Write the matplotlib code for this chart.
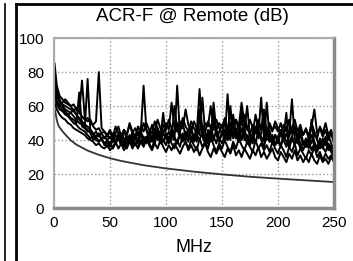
import numpy as np
import matplotlib
matplotlib.use("Agg")
import matplotlib.pyplot as plt
from matplotlib.lines import Line2D

plt.rcParams['font.family'] = ['Liberation Sans', 'DejaVu Sans']

# sweep frequencies (MHz): 0.5 then every 2.5 MHz up to 250
freq = np.concatenate([[0.5], np.arange(2.5, 250.1, 2.5)])

trace_a = [85, 72, 66, 64, 62, 61, 60, 57, 55, 52,
           50, 48, 46, 44, 40, 42, 39, 41, 38, 40,
           37, 41, 38, 44, 40, 36, 42, 39, 45, 41,
           38, 44, 72, 46, 40, 43, 38, 45, 41, 39,
           44, 40, 47, 42, 38, 45, 50, 42, 39, 46,
           41, 48, 43, 65, 44, 40, 47, 42, 38, 45,
           49, 41, 46, 40, 55, 43, 39, 47, 42, 38,
           44, 40, 48, 43, 65, 41, 45, 39, 43, 37,
           42, 46, 40, 44, 38, 42, 47, 39, 43, 37,
           41, 36, 43, 39, 35, 40, 37, 42, 36, 33,
           30]
trace_b = [78, 68, 63, 61, 60, 59, 58, 57, 59, 56,
           54, 52, 53, 50, 49, 51, 80, 47, 45, 43,
           41, 44, 39, 42, 38, 46, 40, 43, 37, 41,
           44, 38, 42, 40, 45, 39, 43, 47, 41, 56,
           42, 38, 44, 40, 72, 43, 39, 45, 41, 48,
           40, 44, 70, 42, 38, 46, 41, 50, 43, 39,
           45, 40, 67, 44, 49, 41, 46, 40, 45, 60,
           42, 38, 47, 41, 44, 56, 40, 46, 39, 43,
           38, 44, 40, 36, 43, 64, 41, 38, 45, 39,
           36, 42, 38, 44, 40, 35, 41, 37, 43, 38,
           34]
trace_c = [70, 63, 60, 58, 56, 55, 53, 52, 50, 68,
           48, 47, 76, 45, 43, 42, 44, 40, 38, 36,
           39, 35, 38, 42, 37, 40, 35, 39, 43, 38,
           36, 40, 37, 42, 38, 35, 41, 44, 38, 40,
           37, 42, 38, 35, 40, 36, 43, 39, 35, 40,
           37, 34, 41, 36, 39, 35, 42, 37, 33, 38,
           35, 40, 36, 33, 39, 35, 41, 37, 34, 39,
           36, 33, 40, 35, 38, 34, 37, 33, 39, 35,
           32, 37, 34, 30, 36, 33, 38, 31, 35, 32,
           29, 34, 31, 36, 30, 33, 28, 32, 29, 31,
           28]
trace_d = [62, 58, 55, 53, 52, 50, 49, 47, 46, 45,
           44, 43, 41, 40, 39, 37, 38, 36, 35, 37,
           34, 36, 39, 35, 38, 34, 37, 40, 35, 38,
           35, 39, 36, 41, 37, 34, 38, 35, 40, 36,
           33, 37, 34, 38, 35, 32, 36, 39, 34, 37,
           33, 36, 31, 35, 38, 33, 30, 35, 32, 36,
           33, 30, 35, 32, 37, 31, 34, 30, 35, 32,
           29, 34, 31, 36, 30, 33, 29, 32, 35, 30,
           28, 33, 30, 27, 32, 29, 34, 28, 31, 27,
           30, 27, 32, 28, 26, 31, 27, 29, 26, 30,
           27]
trace_e = [66, 62, 60, 62, 64, 62, 60, 61, 58, 56,
           75, 53, 51, 52, 48, 46, 47, 44, 45, 42,
           45, 41, 44, 48, 42, 46, 43, 49, 44, 47,
           43, 48, 45, 50, 46, 44, 51, 47, 43, 49,
           46, 52, 47, 44, 50, 46, 53, 48, 45, 51,
           47, 44, 52, 48, 45, 51, 47, 54, 46, 50,
           47, 53, 45, 50, 46, 52, 48, 62, 50, 46,
           52, 47, 44, 51, 46, 50, 44, 49, 45, 51,
           47, 43, 49, 45, 52, 44, 48, 42, 47, 43,
           46, 41, 48, 58, 44, 47, 42, 46, 40, 44,
           38]
trace_f = [74, 66, 62, 60, 58, 57, 56, 58, 55, 53,
           51, 49, 48, 46, 44, 42, 43, 41, 42, 40,
           42, 39, 43, 40, 44, 41, 38, 42, 39, 43,
           40, 45, 41, 38, 44, 40, 46, 42, 39, 44,
           41, 45, 40, 60, 47, 41, 44, 40, 46, 42,
           39, 43, 40, 45, 41, 38, 44, 40, 46, 41,
           38, 43, 40, 46, 41, 44, 39, 42, 47, 40,
           37, 42, 39, 45, 40, 36, 43, 39, 41, 37,
           40, 36, 42, 56, 35, 41, 37, 43, 38, 34,
           39, 35, 52, 37, 33, 38, 35, 40, 34, 37,
           33]
trace_g = [80, 70, 64, 60, 57, 55, 56, 54, 52, 50,
           49, 47, 45, 46, 43, 45, 42, 44, 41, 43,
           46, 42, 48, 44, 40, 46, 43, 50, 45, 42,
           48, 44, 50, 46, 43, 49, 45, 52, 47, 44,
           50, 46, 62, 48, 45, 51, 47, 58, 49, 45,
           51, 47, 53, 45, 50, 48, 60, 46, 52, 47,
           44, 50, 46, 57, 48, 52, 45, 50, 55, 47,
           43, 49, 45, 52, 46, 58, 44, 50, 46, 48,
           45, 50, 44, 48, 42, 47, 52, 45, 49, 43,
           47, 42, 50, 45, 41, 48, 44, 50, 43, 46,
           40]
trace_h = [68, 61, 58, 57, 55, 54, 52, 50, 49, 47,
           46, 45, 43, 41, 42, 40, 39, 41, 37, 39,
           36, 40, 38, 41, 37, 39, 42, 38, 41, 37,
           40, 43, 39, 42, 38, 41, 45, 40, 43, 39,
           42, 39, 45, 41, 38, 44, 40, 42, 46, 40,
           43, 39, 58, 46, 40, 44, 39, 62, 45, 40,
           43, 46, 40, 60, 42, 47, 41, 58, 40, 43,
           39, 44, 55, 46, 42, 39, 62, 41, 38, 43,
           40, 37, 43, 39, 36, 42, 38, 40, 35, 39,
           36, 40, 34, 38, 35, 41, 36, 33, 38, 35,
           32]
traces = [trace_a, trace_b, trace_c, trace_d, trace_e, trace_f, trace_g, trace_h]

# limit line
limit_freq = [1, 1.5, 2, 3, 4, 6, 8, 10, 15, 20, 30, 40, 50, 60, 80,
              100, 125, 150, 175, 200, 225, 250]
limit_db = [57.5, 55.5, 53.5, 50.5, 48.5, 46.5, 44.8, 43.3, 39.8, 37.3, 33.8,
            31.3, 29.3, 27.7, 25.2, 23.3, 21.4, 19.8, 18.4, 17.3, 16.3, 15.3]

fig = plt.figure(figsize=(3.53, 2.61), dpi=100)
ax = fig.add_axes([0.153, 0.203, 0.793, 0.651])

for t in traces:
    ax.plot(freq, t, color='black', lw=1.4)
ax.plot(limit_freq, limit_db, color='#333333', lw=1.3)

ax.set_xlim(0, 250)
ax.set_ylim(0, 100)
ax.set_xticks([0, 50, 100, 150, 200, 250])
ax.set_yticks([0, 20, 40, 60, 80, 100])
ax.tick_params(length=0, labelsize=11)
ax.tick_params(axis='y', pad=7)
ax.tick_params(axis='x', pad=6)
ax.grid(True, color='#999999', linestyle=':', linewidth=1)
ax.set_axisbelow(True)

for side in ['top', 'left']:
    ax.spines[side].set_color('#b0aaaa')
    ax.spines[side].set_linewidth(1.5)
for side in ['bottom', 'right']:
    ax.spines[side].set_color('#8f8888')
    ax.spines[side].set_linewidth(2.5)

ax.set_xlabel('MHz', fontsize=13, labelpad=6)
fig.text(0.545, 0.935, 'ACR-F @ Remote (dB)', ha='center', va='center', fontsize=13.5)

# panel frame lines
fig.add_artist(Line2D([0.044, 0.044], [0.0, 0.985], color='black', lw=2))
fig.add_artist(Line2D([0.015, 0.015], [0.0, 0.985], color='black', lw=1.2))
fig.add_artist(Line2D([0.044, 1.0], [0.985, 0.985], color='black', lw=2))

fig.savefig('out.png', dpi=100)
